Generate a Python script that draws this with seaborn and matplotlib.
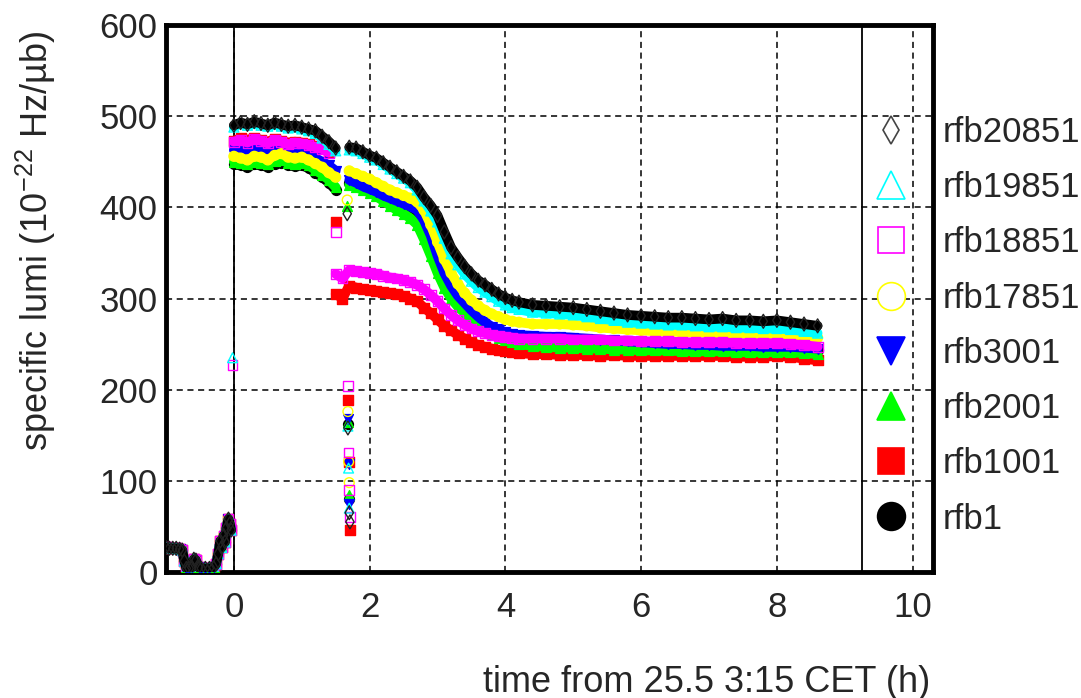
import numpy as np
import pandas as pd
import matplotlib
matplotlib.use("Agg")
import matplotlib.pyplot as plt
import seaborn as sns
from matplotlib.lines import Line2D
from matplotlib import font_manager

nan = np.nan

# ---------------- data ----------------
time_pre = [-1.0, -0.95, -0.9, -0.85, -0.8, -0.76, -0.73, -0.7, -0.66, -0.62, -0.59, -0.56, -0.52, -0.48,
            -0.42, -0.36, -0.3, -0.26, -0.23, -0.2, -0.18, -0.15, -0.13, -0.11, -0.08, -0.06, -0.04]
lumi_pre = [27, 26, 26, 26, 25, 24, 12, 4, 4, 5, 14, 13, 5, 4,
            4, 4, 5, 9, 20, 34, 27, 40, 33, 48, 58, 53, 46]

time_early = [0.0, 0.1, 0.2, 0.3, 0.4, 0.5, 0.6, 0.7, 0.8, 0.9, 1.0, 1.1, 1.2, 1.3, 1.4, 1.5]
time_late = [1.5, 1.6, 1.7, 1.8, 1.9, 2.0, 2.1, 2.2, 2.3, 2.4, 2.5, 2.6, 2.7, 2.8, 2.9, 3.0, 3.1, 3.2,
             3.3, 3.4, 3.5, 3.6, 3.7, 3.8, 3.9, 4.0, 4.1, 4.2,
             4.4, 4.6, 4.8, 5.0, 5.2, 5.4, 5.6, 5.8, 6.0, 6.2, 6.4, 6.6, 6.8, 7.0, 7.2, 7.4, 7.6, 7.8,
             8.0, 8.2, 8.4, 8.6]

channels = ["rfb20851", "rfb19851", "rfb18851", "rfb17851", "rfb3001", "rfb2001", "rfb1001", "rfb1"]

rfb20851_early = [490, 493, 491, 494, 492, 490, 493, 491, 489, 490, 488, 486, 484, 478, 472, 465]
rfb19851_early = [488, 492, 490, 492, 490, 489, 491, 489, 487, 488, 486, 484, 481, 476, 469, 462]
rfb18851_early = [472, 474, 471, 475, 473, 470, 474, 472, 469, 471, 470, 468, 466, 464, 460, nan]
rfb17851_early = [456, 454, 452, 456, 455, 452, 457, 459, 455, 454, 455, 452, 448, 444, 438, 433]
rfb3001_early = [463, 465, 462, 466, 464, 461, 465, 463, 460, 462, 460, 457, 454, 450, 446, 440]
rfb2001_early = [450, 449, 447, 450, 449, 447, 451, 452, 449, 448, 449, 446, 441, 436, 430, 422]
rfb1001_early = [473, 476, 474, 476, 474, 472, 475, 473, 471, 472, 471, 469, 467, 465, 461, nan]
rfb1_early = [447, 446, 444, 447, 446, 444, 448, 449, 446, 445, 446, 443, 438, 433, 427, 419]

rfb20851_late = [nan, nan, 466, 465, 461, 457, 454, 449, 444, 439, 434, 429, 422, 411, 402, 391, 373, 356,
                 345, 335, 327, 320, 315, 310, 305, 301, 298, 296,
                 293, 292, 291, 290, 288, 286, 284, 282, 281, 280, 279, 279, 278, 277, 278, 276, 276, 275,
                 276, 274, 272, 270]
rfb19851_late = [nan, nan, 463, 462, 459, 455, 452, 447, 442, 437, 432, 427, 419, 407, 396, 384, 366, 349,
                 337, 327, 319, 312, 307, 302, 297, 293, 290, 288,
                 285, 284, 283, 282, 280, 278, 276, 274, 273, 272, 271, 271, 270, 269, 269, 268, 268, 267,
                 267, 266, 264, 262]
rfb18851_late = [327, 322, 331, 330, 329, 328, 327, 325, 323, 322, 320, 318, 315, 310, 304, 297, 289, 282,
                 276, 271, 267, 264, 262, 260, 259, 258, 257, 256,
                 256, 256, 256, 255, 255, 255, 254, 254, 253, 253, 253, 252, 252, 252, 252, 251, 251, 251,
                 251, 250, 249, 247]
rfb17851_late = [nan, nan, 440, 437, 434, 431, 427, 423, 419, 416, 413, 410, 406, 397, 381, 362, 343, 328,
                 316, 306, 298, 292, 287, 283, 280, 277, 275, 274,
                 272, 272, 272, 271, 270, 268, 267, 266, 265, 264, 264, 263, 263, 262, 262, 262, 261, 261,
                 261, 260, 259, 257]
rfb3001_late = [nan, nan, 430, 427, 423, 420, 417, 413, 410, 407, 404, 401, 397, 386, 369, 347, 328, 314,
                303, 295, 287, 280, 274, 269, 266, 263, 261, 260,
                259, 258, 258, 257, 256, 255, 254, 253, 252, 251, 250, 250, 249, 249, 248, 248, 248, 247,
                247, 247, 246, 245]
rfb2001_late = [nan, nan, 425, 422, 419, 416, 412, 407, 402, 397, 393, 388, 381, 365, 347, 328, 312, 300,
                291, 284, 277, 271, 266, 261, 257, 254, 252, 250,
                248, 247, 246, 246, 245, 245, 244, 244, 243, 243, 243, 242, 242, 242, 242, 241, 241, 241,
                241, 241, 240, 239]
rfb1001_late = [305, 300, 314, 312, 310, 309, 308, 307, 306, 305, 303, 300, 297, 290, 284, 277, 270, 265,
                260, 256, 252, 249, 247, 245, 243, 242, 241, 240,
                239, 239, 238, 238, 238, 237, 238, 237, 237, 237, 237, 237, 237, 237, 237, 236, 236, 236,
                237, 236, 234, 232]
rfb1_late = [nan, nan, 427, 424, 421, 418, 414, 410, 406, 402, 398, 394, 389, 375, 358, 337, 320, 307,
             297, 289, 282, 276, 270, 265, 262, 259, 257, 256,
             255, 254, 253, 252, 251, 251, 250, 249, 249, 248, 248, 247, 247, 247, 246, 246, 246, 245,
             245, 245, 244, 243]

# isolated points (dip around t = 1.7 h and the spike at t = 0)
rfb20851_dip_t = [1.67, 1.68, 1.70, 1.71]
rfb20851_dip_v = [393, 158, 65, 55]
rfb19851_dip_t = [-0.02, 1.68, 1.69, 1.70]
rfb19851_dip_v = [235, 160, 114, 70]
rfb18851_dip_t = [-0.02, 1.50, 1.68, 1.69, 1.70, 1.71]
rfb18851_dip_v = [227, 373, 204, 131, 90, 60]
rfb17851_dip_t = [1.67, 1.68, 1.69, 1.70]
rfb17851_dip_v = [408, 176, 121, 98]
rfb3001_dip_t = [1.68, 1.69, 1.70]
rfb3001_dip_v = [168, 118, 75]
rfb2001_dip_t = [1.67, 1.68, 1.70]
rfb2001_dip_v = [401, 165, 85]
rfb1001_dip_t = [1.50, 1.68, 1.70, 1.71]
rfb1001_dip_v = [384, 189, 121, 46]
rfb1_dip_t = [1.68, 1.70]
rfb1_dip_v = [162, 80]

x_ticks = [0, 2, 4, 6, 8, 10]
y_ticks = [0, 100, 200, 300, 400, 500, 600]

# ---------------- style ----------------
colors = {"rfb20851": "#000000", "rfb19851": "#00FFFF", "rfb18851": "#FF00FF", "rfb17851": "#FFFF00",
          "rfb3001": "#0000FF", "rfb2001": "#00FF00", "rfb1001": "#FF0000", "rfb1": "#000000"}
markers = {"rfb20851": "d", "rfb19851": "^", "rfb18851": "s", "rfb17851": "o",
           "rfb3001": "v", "rfb2001": "^", "rfb1001": "s", "rfb1": "o"}
filled = {"rfb20851": False, "rfb19851": False, "rfb18851": False, "rfb17851": False,
          "rfb3001": True, "rfb2001": True, "rfb1001": True, "rfb1": True}
leg_ms = {"rfb20851": 14, "rfb19851": 20, "rfb18851": 19, "rfb17851": 20,
          "rfb3001": 20, "rfb2001": 20, "rfb1001": 19, "rfb1": 20}

sns.set_style("white")
names = {f.name for f in font_manager.fontManager.ttflist}
REG = "Liberation Sans" if "Liberation Sans" in names else "DejaVu Sans"
NARROW = next((n for n in ["Liberation Sans Narrow", "DejaVu Sans Condensed"] if n in names), REG)
plt.rcParams["font.family"] = [REG, "DejaVu Sans"]
plt.rcParams["mathtext.fontset"] = "custom"
plt.rcParams["mathtext.rm"] = REG
plt.rcParams["mathtext.default"] = "regular"

# ---------------- build long tables ----------------
g = globals()
line_rows = []
pt_rows = []
for ch in channels:
    early = g[f"{ch}_early"]
    late = g[f"{ch}_late"]
    for t, v in zip(time_pre, lumi_pre):
        line_rows.append((ch, "pre", t, v))
    for t, v in zip(time_early, early):
        line_rows.append((ch, "early", t, v))
    for t, v in zip(time_late, late):
        line_rows.append((ch, "late", t, v))
    for t, v in zip(g[f"{ch}_dip_t"], g[f"{ch}_dip_v"]):
        pt_rows.append((ch, "dip", t, v))
lines = pd.DataFrame(line_rows, columns=["channel", "seg", "time", "lumi"])
points = pd.concat([lines, pd.DataFrame(pt_rows, columns=["channel", "seg", "time", "lumi"])])
lines = lines.dropna()
points = points.dropna()

W, H = 1081, 698
fig = plt.figure(figsize=(W / 100, H / 100), dpi=100)
ax = fig.add_axes([166 / W, 1 - 572 / H, (933 - 166) / W, (572 - 25) / H])

draw_order = channels[::-1]  # rfb1 at the bottom, rfb20851 on top
for i, ch in enumerate(draw_order):
    col = colors[ch]
    sub_l = lines[lines.channel == ch]
    sub_p = points[points.channel == ch]
    sns.lineplot(data=sub_l, x="time", y="lumi", units="seg", estimator=None, sort=False,
                 color=col, lw=7, zorder=3 + i, ax=ax, legend=False)
    fc = col if filled[ch] else "none"
    ec = "#222222" if ch == "rfb20851" else col
    sns.scatterplot(data=sub_p, x="time", y="lumi", marker=markers[ch], s=50,
                    facecolor=fc, edgecolor=ec, linewidth=1.0, zorder=3.5 + i, ax=ax, legend=False)

# axes decorations
ax.set_xlim(-1.0, 10.3)
ax.set_ylim(0, 600)
ax.set_xticks(x_ticks)
ax.set_yticks(y_ticks)
ax.set_axisbelow(True)
ax.grid(True, ls=(0, (4, 3)), color="black", lw=1.1)
ax.axvline(0, color="black", lw=1.3, zorder=2)
ax.axvline(9.25, color="black", lw=1.3, zorder=2)
for sp in ax.spines.values():
    sp.set_linewidth(3.5)
    sp.set_color("black")
ax.tick_params(axis="both", length=0)
ax.tick_params(axis="y", labelsize=25, pad=6)
ax.tick_params(axis="x", labelsize=25, pad=14)
for lbl in ax.get_xticklabels():
    lbl.set_fontfamily(NARROW)

ax.set_ylabel("specific lumi (10$^{-22}$ Hz/µb)", fontsize=26, loc="top")
ax.yaxis.set_label_coords(-0.141, 0.99)
ax.set_xlabel("time from 25.5 3:15 CET (h)", fontsize=26, loc="right", fontfamily=NARROW)
ax.xaxis.set_label_coords(0.996, -0.17)

handles = []
for ch in channels:
    col = colors[ch]
    ec = "#444444" if ch == "rfb20851" else col
    handles.append(Line2D([], [], ls="none", marker=markers[ch], ms=leg_ms[ch],
                          mfc=col if filled[ch] else "white", mec=ec, mew=1.2))
leg = ax.legend(handles, channels, loc="upper left", bbox_to_anchor=(873.6 / W, 1 - 116 / H),
                bbox_transform=fig.transFigure, frameon=False, handlelength=1.0, handletextpad=1.0,
                labelspacing=0.64, borderpad=0, borderaxespad=0,
                prop={"family": NARROW, "size": 25})

fig.savefig("out.png", dpi=100)
